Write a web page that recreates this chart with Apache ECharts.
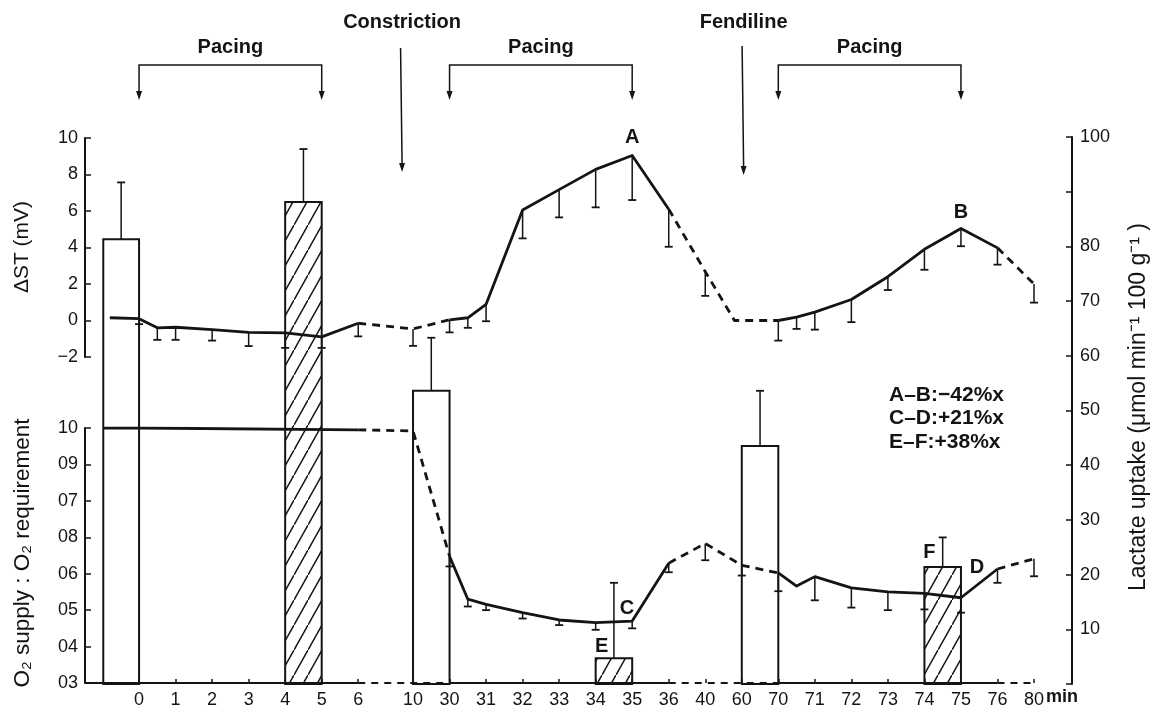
<!DOCTYPE html>
<html><head><meta charset="utf-8">
<script src="https://cdn.jsdelivr.net/npm/echarts@6/dist/echarts.min.js"></script>
<style>html,body{margin:0;padding:0;background:#fff}#c{width:1151px;height:709px}</style>
</head><body><div id="c"></div>
<script>
// ---------- axis definitions ----------
// time axis is broken: each label has a slot position on a linear "slot" scale
const xTickLabels = ['0','1','2','3','4','5','6','10','30','31','32','33','34','35','36','40','60','70','71','72','73','74','75','76','80'];
const xTickSlots  = [0,1,2,3,4,5,6,7.5,8.5,9.5,10.5,11.5,12.5,13.5,14.5,15.5,16.5,17.5,18.5,19.5,20.5,21.5,22.5,23.5,24.5];
const o2TickValues = [1.0,0.9,0.8,0.7,0.6,0.5,0.4,0.3];
const o2TickLabels = ['10','09','07','08','06','05','04','03'];
const lactateLabelValues = [10,20,30,40,50,60,70,80,100];

// ---------- ΔST (mV) ----------
const stSlot  = [-0.8,0,0.5,1,2,3,4,5,6,7.5,8.5,9,9.5,10.5,11.5,12.5,13.5,14.5,15.5,16.3,17.5,18,18.5,19.5,20.5,21.5,22.5,23.5,24.5];
const stValue = [0.15,0.1,-0.4,-0.37,-0.5,-0.65,-0.68,-0.9,-0.15,-0.46,0.04,0.15,0.89,6.05,7.17,8.28,9.04,6.1,2.68,0.0,0.0,0.19,0.46,1.15,2.4,3.9,5.04,3.98,2.0];
const stErrLow= [null,-0.2,-1.06,-1.06,-1.1,-1.4,-1.5,-1.5,-0.87,-1.39,-0.65,-0.4,-0.04,4.5,5.65,6.2,6.6,4.04,1.35,null,-1.1,-0.46,-0.5,-0.09,1.67,2.78,4.07,3.06,0.98];
const stSegStyle = 'SSSSSSSSDDSSSSSSSDDDSSSSSSSD';

// ---------- O2 supply : O2 requirement ----------
const o2Slot  = [-0.98,0,6,7.5,8.5,9,9.5,10.5,11.5,12.5,13,13.5,14.5,15.5,16.5,17.5,18,18.5,19.5,20.5,21.5,22.5,23.5,24.5];
const o2Value = [1.0,1.0,0.995,0.992,0.648,0.53,0.516,0.493,0.473,0.466,0.468,0.47,0.629,0.683,0.623,0.602,0.566,0.592,0.561,0.55,0.546,0.534,0.613,0.641];
const o2ErrLow= [null,null,null,null,0.62,0.51,0.50,0.477,0.459,0.446,null,0.45,0.604,0.637,0.595,0.552,null,0.527,0.507,0.50,0.502,0.493,0.575,0.593];
const o2SegStyle = 'SSDDSSSSSSSSDDDSSSSSSSD';

// ---------- Lactate uptake bars ----------
const barStart  = [-0.98,4,7.5,12.5,16.5,21.5];
const barEnd    = [0,5,8.5,13.5,17.5,22.5];
const barValue  = [81.3,88.1,53.6,4.7,43.5,21.4];
const barErrTop = [91.7,97.8,63.3,18.5,53.6,26.8];
const barHatched= [0,1,0,1,0,1];

// baseline of the time axis: solid / dashed pieces
const baseBreaks = [-1.48,6,8.5,14.5,17.5,23.5,24.5];
const baseStyle = 'SDSDSD';

const INK = '#141414';
const FONT = "'Liberation Sans', Arial, Helvetica, sans-serif";
const X_MIN = -1.48, X_MAX = 25.54;

function runs(xs, ys, style) {
  const out = []; let cur = null;
  for (let i = 0; i < xs.length - 1; i++) {
    const d = style[i] === 'D';
    if (!cur || cur.dashed !== d) { cur = {dashed: d, pts: [[xs[i], ys[i]]]}; out.push(cur); }
    cur.pts.push([xs[i+1], ys[i+1]]);
  }
  return out;
}
function lineSeries(rs, axis, width) {
  return rs.map(r => ({
    type: 'line', xAxisIndex: axis, yAxisIndex: axis, data: r.pts, symbol: 'none',
    silent: true, z: 5,
    lineStyle: {color: INK, width: width, type: r.dashed ? [8, 6] : 'solid', cap: 'butt', join: 'round'}
  }));
}
function errSeries(xs, ys, errs, axis) {
  const data = [];
  xs.forEach((x, i) => { if (errs[i] != null) data.push([x, ys[i], errs[i]]); });
  return {
    type: 'custom', xAxisIndex: axis, yAxisIndex: axis, data, silent: true, z: 4,
    renderItem: (p, api) => {
      const a = api.coord([api.value(0), api.value(1)]);
      const b = api.coord([api.value(0), api.value(2)]);
      return {type: 'group', children: [
        {type: 'line', shape: {x1: a[0], y1: a[1], x2: b[0], y2: b[1]}, style: {stroke: INK, lineWidth: 1.5}},
        {type: 'line', shape: {x1: b[0]-4, y1: b[1], x2: b[0]+4, y2: b[1]}, style: {stroke: INK, lineWidth: 1.8}}
      ]};
    }
  };
}

// hatch pattern
const hc = document.createElement('canvas');
hc.width = 14; hc.height = 25;
const hctx = hc.getContext('2d');
hctx.strokeStyle = INK; hctx.lineWidth = 1.5;
hctx.beginPath();
hctx.moveTo(-2, 25 + 25/14*2); hctx.lineTo(16, -25/14*2);
hctx.stroke();
const hatch = {image: hc, repeat: 'repeat'};

const chart = echarts.init(document.getElementById('c'));

const yAxisCommon = {
  axisLine: {show: true, onZero: false, lineStyle: {color: INK, width: 2}},
  axisTick: {show: true, inside: true, length: 6, lineStyle: {color: INK, width: 1.5}},
  splitLine: {show: false},
  axisLabel: {color: INK, fontSize: 18, fontFamily: FONT, margin: 7}
};

const baseData = runs(baseBreaks, baseBreaks.map(() => 0.3), baseStyle);

const option = {
  animation: false,
  backgroundColor: '#fff',
  grid: [
    {left: 85, right: 79, top: 138, height: 219},
    {left: 85, right: 79, top: 428, height: 256},
    {left: 85, right: 79, top: 137, height: 547}
  ],
  xAxis: [
    {type: 'value', gridIndex: 0, min: X_MIN, max: X_MAX, show: false},
    {type: 'value', gridIndex: 1, min: X_MIN, max: X_MAX,
      axisLine: {show: false, onZero: false},
      splitLine: {show: false},
      axisTick: {show: true, inside: true, length: 4, customValues: xTickSlots, lineStyle: {color: INK, width: 1.5}},
      axisLabel: {show: true, customValues: xTickSlots, color: INK, fontSize: 18, fontFamily: FONT, margin: 8,
        formatter: v => { const i = xTickSlots.findIndex(s => Math.abs(s - v) < 1e-6); return i >= 0 ? xTickLabels[i] : ''; }}
    },
    {type: 'value', gridIndex: 2, min: X_MIN, max: X_MAX, show: false}
  ],
  yAxis: [
    Object.assign({}, yAxisCommon, {type: 'value', gridIndex: 0, min: -2, max: 10, interval: 2,
      axisLabel: Object.assign({}, yAxisCommon.axisLabel, {formatter: v => v < 0 ? '\u2212' + Math.abs(v) : String(v)})}),
    Object.assign({}, yAxisCommon, {type: 'value', gridIndex: 1, min: 0.3, max: 1.0, interval: 0.1,
      axisLabel: Object.assign({}, yAxisCommon.axisLabel, {formatter: v => {
        const i = o2TickValues.findIndex(t => Math.abs(t - v) < 1e-6); return i >= 0 ? o2TickLabels[i] : ''; }})}),
    Object.assign({}, yAxisCommon, {type: 'value', gridIndex: 2, position: 'right', min: 0, max: 100, interval: 10,
      axisLabel: Object.assign({}, yAxisCommon.axisLabel, {margin: 8,
        formatter: v => lactateLabelValues.indexOf(Math.round(v)) >= 0 ? String(Math.round(v)) : ''})})
  ],
  series: [].concat(
    [{
      type: 'custom', xAxisIndex: 2, yAxisIndex: 2, silent: true, z: 2,
      data: barStart.map((s, i) => [s, barValue[i], barEnd[i], barErrTop[i], barHatched[i]]),
      renderItem: (p, api) => {
        const a = api.coord([api.value(0), 0]);
        const b = api.coord([api.value(2), api.value(1)]);
        const cx = (a[0] + b[0]) / 2;
        const e = api.coord([api.value(0), api.value(3)]);
        return {type: 'group', children: [
          {type: 'rect', shape: {x: a[0], y: b[1], width: b[0] - a[0], height: a[1] - b[1]},
            style: {fill: api.value(4) ? hatch : 'none', stroke: INK, lineWidth: 2}},
          {type: 'line', shape: {x1: cx, y1: b[1], x2: cx, y2: e[1]}, style: {stroke: INK, lineWidth: 1.5}},
          {type: 'line', shape: {x1: cx - 4, y1: e[1], x2: cx + 4, y2: e[1]}, style: {stroke: INK, lineWidth: 1.8}}
        ]};
      }
    }],
    baseData.map(r => ({type: 'line', xAxisIndex: 1, yAxisIndex: 1, data: r.pts, symbol: 'none', silent: true, z: 3,
      lineStyle: {color: INK, width: 2, type: r.dashed ? [7, 6] : 'solid'}})),
    lineSeries(runs(stSlot, stValue, stSegStyle), 0, 2.8),
    [errSeries(stSlot, stValue, stErrLow, 0)],
    lineSeries(runs(o2Slot, o2Value, o2SegStyle), 1, 2.8),
    [errSeries(o2Slot, o2Value, o2ErrLow, 1)]
  )
};
chart.setOption(option);

// ---------- annotations ----------
const px = v => chart.convertToPixel({xAxisIndex: 1}, v);
const P = (g, x, y) => chart.convertToPixel({gridIndex: g}, [x, y]);
const txt = (t, x, y, size, weight, extra) => Object.assign({type: 'text', x, y, silent: true,
  style: {text: t, fill: INK, fontSize: size, fontWeight: weight || 'normal', fontFamily: FONT, align: 'center', verticalAlign: 'middle'}}, extra || {});
const arrowHead = (x, y) => ({type: 'polygon', silent: true, shape: {points: [[x - 3, y - 9], [x + 3, y - 9], [x, y]]}, style: {fill: INK}});
const g = [];
function bracket(s0, s1) {
  const x0 = px(s0), x1 = px(s1);
  g.push({type: 'polyline', silent: true, shape: {points: [[x0, 91], [x0, 65], [x1, 65], [x1, 91]]}, style: {stroke: INK, lineWidth: 1.5, fill: null}});
  g.push(arrowHead(x0, 100), arrowHead(x1, 100));
  g.push(txt('Pacing', (x0 + x1) / 2, 47, 20, 'bold'));
}
bracket(0, 5); bracket(8.5, 13.5); bracket(17.5, 22.5);
function event(label, s, yTop, yTip) {
  const x = px(s);
  g.push(txt(label, x, 22, 20, 'bold'));
  g.push({type: 'line', silent: true, shape: {x1: x - 1.5, y1: yTop, x2: x, y2: yTip - 8}, style: {stroke: INK, lineWidth: 1.5}});
  g.push(arrowHead(x, yTip));
}
event('Constriction', 7.2, 48, 172);
event('Fendiline', 16.55, 46, 175);

let p;
p = P(0, stSlot[16], stValue[16]); g.push(txt('A', p[0], p[1] - 18, 20, 'bold'));
p = P(0, stSlot[26], stValue[26]); g.push(txt('B', p[0], p[1] - 16, 20, 'bold'));
p = P(1, o2Slot[10], o2Value[10]); g.push(txt('C', p[0] + 13, p[1] - 13, 20, 'bold'));
p = P(2, barEnd[5], barValue[5]); g.push(txt('D', p[0] + 16, p[1] + 1, 20, 'bold'));
p = P(2, barStart[3], barValue[3]); g.push(txt('E', p[0] + 6, p[1] - 12, 20, 'bold'));
p = P(2, barStart[5], barValue[5]); g.push(txt('F', p[0] + 5, p[1] - 14, 20, 'bold'));

g.push({type: 'text', x: 889, y: 383, silent: true,
  style: {text: 'A\u2013B:\u221242%x\nC\u2013D:+21%x\nE\u2013F:+38%x', fill: INK, fontSize: 21, fontWeight: 'bold',
    fontFamily: FONT, lineHeight: 23.5, align: 'left', verticalAlign: 'top'}});

g.push(txt('\u0394ST (mV)', 22, 247, 21, 'normal', {rotation: Math.PI / 2}));
g.push(txt('O\u2082 supply : O\u2082 requirement', 23, 553, 22.5, 'normal', {rotation: Math.PI / 2}));
g.push(txt('Lactate uptake (\u03bcmol min\u207b\u00b9 100 g\u207b\u00b9 )', 1139, 407, 23, 'normal', {rotation: Math.PI / 2}));
g.push(txt('min', px(24.5) + 12, 697, 18, 'bold'));
g[g.length - 1].style.align = 'left';

chart.setOption({graphic: g});
</script></body></html>
